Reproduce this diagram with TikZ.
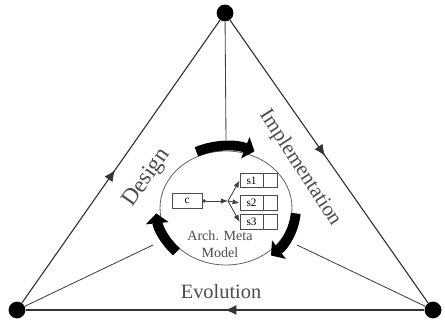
\documentclass[tikz,border=0pt]{standalone}
\usepackage{fontspec}
\setmainfont{Liberation Serif}
\usetikzlibrary{arrows.meta,decorations.markings}

\begin{document}
\begin{tikzpicture}[x=0.025cm, y=-0.025cm,
	vertex/.style={circle, fill=black, inner sep=0pt, minimum size=0.42cm},
	edge/.style={line width=0.8pt, draw=black!80},
	midarrow/.style={postaction={decorate}, decoration={markings,
		mark=at position #1 with {\arrow{Latex[length=8pt,width=7pt]}}}},
	spoke/.style={line width=0.6pt, draw=black!75},
	bigarrow/.style={line width=7pt, -{Triangle[length=7pt,width=16pt]}},
	lbl/.style={text=black!70, inner sep=0pt},
	cbox/.style={draw=black!70, line width=0.6pt, inner sep=0pt,
		minimum height=0.37cm, font=\fontsize{8}{9}\selectfont}]
	%frame
	\useasboundingbox (0,0) rectangle (445,326);
	%corners
	\node[vertex] (vtop) at (225,13) {};
	\node[vertex] (vleft) at (17,310) {};
	\node[vertex] (vright) at (433,310) {};
	%triangle
	\draw[edge, midarrow=0.47] (vleft) -- (vtop);
	\draw[edge, midarrow=0.48] (vtop) -- (vright);
	\draw[edge, midarrow=0.5] (vright) -- (vleft);
	%spokes
	\coordinate (dTop) at (226,140);
	\coordinate (dLeft) at (153,245);
	\coordinate (dRight) at (297,245);
	\draw[spoke] (vtop) -- (dTop);
	\draw[spoke] (vleft) -- (dLeft);
	\draw[spoke] (vright) -- (dRight);
	%model
	\coordinate (O) at (226,208);
	\draw[black!60, line width=0.6pt] (O) ellipse [x radius=66, y radius=57];
	%cycle
	\foreach \a/\b in {-115/-66, 5/50, 135/175}
	\draw[bigarrow] (O) ++(\a:70 and 62) arc[start angle=\a, end angle=\b, x radius=70, y radius=62];
	%inner parts
	\node[cbox, minimum width=0.75cm] (c) at (187,201) {c};
	\coordinate (J) at (228,201);
	\draw[spoke, {Circle[length=2.5pt]}-{Latex[length=5pt]}] (c) -- (J);
	\foreach \i/\y in {1/180.5, 2/203, 3/222}{
		\node[cbox, minimum width=0.575cm] (s\i) at (251.5,\y) {s\i};
		\node[cbox, minimum width=0.35cm, anchor=west] (t\i) at (s\i.east) {};
		\draw[spoke, -{Latex[length=5pt]}] (J) -- (s\i.west);
	}
	%labels
	\node[lbl, rotate=55, font=\fontsize{16.5}{18}\selectfont] (design) at (147,178) {Design};
	\node[lbl, rotate=-57, font=\fontsize{15}{17}\selectfont] (impl) at (300,168) {Implementation};
	\node[lbl, font=\fontsize{14.5}{16}\selectfont] (evol) at (221,292) {Evolution};
	\node[lbl, align=center, font=\fontsize{10}{12.5}\selectfont] (amm) at (220,244) {Arch. Meta\\Model};
\end{tikzpicture}
\end{document}
